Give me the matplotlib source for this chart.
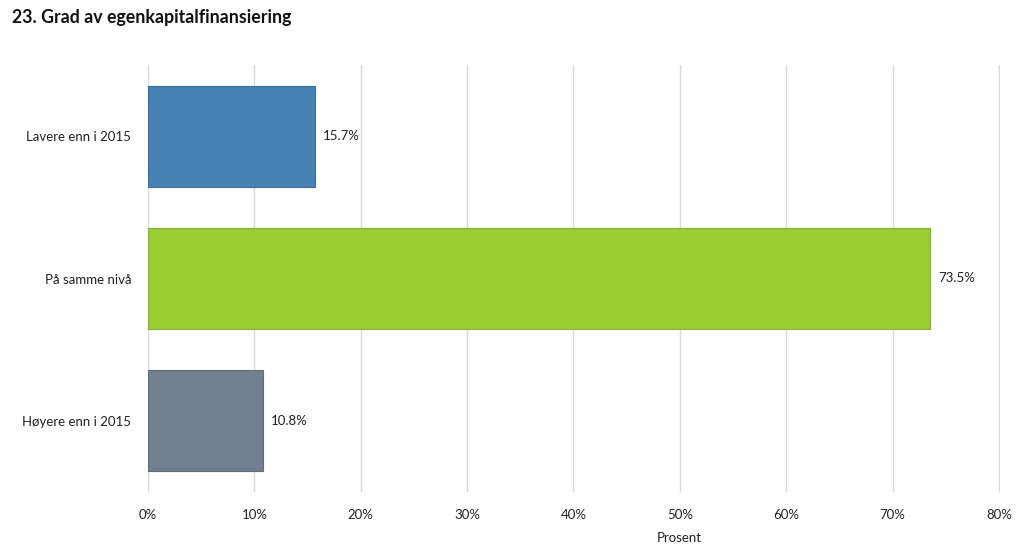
import matplotlib.pyplot as plt
from matplotlib.ticker import FuncFormatter

plt.rcParams['font.family'] = ['Lato', 'DejaVu Sans']

# data
categories = ['Lavere enn i 2015', 'På samme nivå', 'Høyere enn i 2015']
values = [15.7, 73.5, 10.8]
colors = ['#4682b4', '#9acd32', '#708090']
edges = ['#3a6e99', '#86b32b', '#5f6d7a']
x_ticks = [0, 10, 20, 30, 40, 50, 60, 70, 80]

fig = plt.figure(figsize=(10.24, 5.54), dpi=100)
ax = fig.add_axes([148 / 1024, 1 - 492 / 554, 852 / 1024, 427 / 554])

pos = list(range(len(categories)))
ax.barh(pos, values, height=0.71, color=colors, edgecolor=edges, linewidth=0.8, zorder=3)

for p, v in zip(pos, values):
    ax.text(v + 0.75, p, f'{v}%', va='center', ha='left', fontsize=9.5, color='#222222')

ax.set_xlim(0, 80.1)
ax.set_ylim(2.5, -0.5)
ax.set_xticks(x_ticks)
ax.xaxis.set_major_formatter(FuncFormatter(lambda x, _: f'{x:.0f}%'))
ax.set_yticks(pos)
ax.set_yticklabels(categories)
ax.tick_params(axis='both', length=0, labelsize=9.5, colors='#222222')
ax.tick_params(axis='x', pad=12)
ax.tick_params(axis='y', pad=12)
ax.grid(axis='x', color='#d9d9d9', linewidth=1, zorder=0)
for s in ax.spines.values():
    s.set_visible(False)

fig.text(12 / 1024, 1 - 17 / 554, '23. Grad av egenkapitalfinansiering', fontsize=12.8,
         fontweight='bold', va='center', ha='left', color='#111111')
fig.text(679 / 1024, 1 - 538 / 554, 'Prosent', fontsize=9.5, ha='center', va='center', color='#222222')

fig.savefig('out.png', dpi=100)
